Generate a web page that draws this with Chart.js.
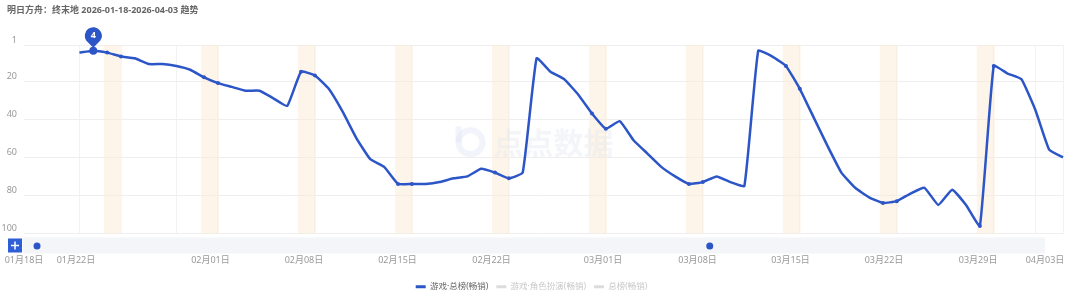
<!DOCTYPE html>
<html>
<head>
<meta charset="utf-8">
<script src="https://cdn.jsdelivr.net/npm/chart.js@4"></script>
<style>
  html, body { margin: 0; padding: 0; background: #fff; }
  #caixa { position: relative; width: 1080px; height: 303px; }
  #titulo {
    position: absolute; left: 7px; top: 4px;
    font: bold 9px/12px "Noto Sans", "Noto Sans CJK SC", sans-serif;
    color: #666; white-space: nowrap;
  }
</style>
</head>
<body>
<div id="caixa">
  <canvas id="grafico" width="1080" height="303"></canvas>
  <div id="titulo"></div>
</div>
<script>
// 日期（每天一个点）
const dias = [
  '01-18','01-19','01-20','01-21','01-22','01-23','01-24','01-25','01-26','01-27','01-28','01-29','01-30','01-31',
  '02-01','02-02','02-03','02-04','02-05','02-06','02-07','02-08','02-09','02-10','02-11','02-12','02-13','02-14',
  '02-15','02-16','02-17','02-18','02-19','02-20','02-21','02-22','02-23','02-24','02-25','02-26','02-27','02-28',
  '03-01','03-02','03-03','03-04','03-05','03-06','03-07','03-08','03-09','03-10','03-11','03-12','03-13','03-14',
  '03-15','03-16','03-17','03-18','03-19','03-20','03-21','03-22','03-23','03-24','03-25','03-26','03-27','03-28',
  '03-29','03-30','03-31','04-01','04-02','04-03'
];

// 游戏·总榜(畅销) 排名
const ranking = [
  null, null, null, null, 5, 4, 5, 7, 8, 11, 11, 12, 14, 18,
  21, 23, 25, 25, 29, 33, 15, 17, 24, 36, 50, 61, 65, 74,
  74, 74, 73, 71, 70, 66, 68, 71, 68, 8, 15, 19, 27, 37,
  45, 41, 51, 58, 65, 70, 74, 73, 70, 73, 75, 4, 7, 12,
  24, 39, 54, 68, 76, 81, 84, 83, 79, 76, 85, 77, 85, 96,
  12, 16, 19, 35, 56, 60
];

const series = ['游戏·总榜(畅销)', '游戏·角色扮演(畅销)', '总榜(畅销)'];
const yTicks = [1, 20, 40, 60, 80, 100];
const xTickLabels = ['01月18日', '01月22日', '02月01日', '02月08日', '02月15日', '02月22日',
  '03月01日', '03月08日', '03月15日', '03月22日', '03月29日', '04月03日'];
const titulo = '明日方舟：终末地 2026-01-18-2026-04-03 趋势';
const destaque = 5; // ponto com o marcador

// ---- layout (fora dos dados) ----
const gridDays = [4, 11, 14, 21, 28, 35, 42, 49, 56, 63, 70, 73, 75];
const xTickPos = [0, 3.75, 13.46, 20.21, 26.96, 33.75, 41.8, 48.62, 55.33, 62.08, 68.87, 73.7];
const handlePos = [0.94, 49.5];

const azul = '#2c55c7';
const legendCores = [azul, '#dcdcdc', '#dcdcdc'];
const legendTexto = ['#666', '#c8c8c8', '#c8c8c8'];

document.getElementById('titulo').textContent = titulo;

// dia da semana de cada data
const diaSemana = dias.map(d => {
  const [m, dd] = d.split('-').map(Number);
  return new Date(Date.UTC(2026, m - 1, dd)).getUTCDay();
});
const sabados = diaSemana.map((w, i) => w === 6 ? i : -1).filter(i => i >= 0);
const fimDeSemana = i => diaSemana[i] === 0 || diaSemana[i] === 6;

Chart.defaults.font.family = '"Noto Sans", "Noto Sans CJK SC", sans-serif';

const decoracao = {
  id: 'decoracao',
  beforeDatasetsDraw(chart) {
    const { ctx, chartArea: a, scales: { x } } = chart;
    ctx.save();
    // faixas de fim de semana
    ctx.fillStyle = 'rgba(252, 236, 216, 0.55)';
    sabados.forEach(s => {
      if (s + 1 >= dias.length) return;
      const x0 = x.getPixelForValue(s - 0.22);
      const x1 = x.getPixelForValue(s + 1.07);
      ctx.fillRect(x0, a.top, x1 - x0, a.bottom - a.top);
    });
    // marca d'água
    const cx = (a.left + a.right) / 2;
    const cy = (a.top + a.bottom) / 2 + 3;
    ctx.strokeStyle = 'rgba(220, 228, 244, 0.4)';
    ctx.lineWidth = 6;
    ctx.beginPath();
    ctx.arc(cx - 73, cy, 12, 0, Math.PI * 2);
    ctx.stroke();
    ctx.beginPath();
    ctx.moveTo(cx - 85, cy - 16);
    ctx.lineTo(cx - 85, cy);
    ctx.stroke();
    ctx.fillStyle = 'rgba(228, 230, 238, 0.4)';
    ctx.font = 'bold 30px "Noto Sans CJK SC", sans-serif';
    ctx.textBaseline = 'middle';
    ctx.fillText('点点数据', cx - 50, cy);
    ctx.restore();
  },
  afterDraw(chart) {
    const { ctx, chartArea: a, scales: { x, y, x2 } } = chart;
    ctx.save();
    // barra do navegador
    const barTop = a.bottom + 4;
    ctx.fillStyle = '#f3f5f9';
    ctx.fillRect(a.left - 1, barTop, x2.getPixelForValue(xTickPos[xTickPos.length - 1]) - a.left + 1, 16);
    ctx.fillStyle = azul;
    handlePos.forEach(v => {
      ctx.beginPath();
      ctx.arc(x2.getPixelForValue(v), barTop + 8.5, 3.5, 0, Math.PI * 2);
      ctx.fill();
    });
    // botão +
    ctx.fillStyle = '#2f5fd6';
    ctx.fillRect(8, barTop + 1, 14, 14);
    ctx.strokeStyle = '#fff';
    ctx.lineWidth = 1.5;
    ctx.beginPath();
    ctx.moveTo(11, barTop + 8);
    ctx.lineTo(19, barTop + 8);
    ctx.moveTo(15, barTop + 4);
    ctx.lineTo(15, barTop + 12);
    ctx.stroke();
    // marcador em forma de pino
    const px = x.getPixelForValue(destaque);
    const py = y.getPixelForValue(ranking[destaque]);
    const r = 8.5, cyp = py - 15;
    ctx.fillStyle = azul;
    ctx.beginPath();
    ctx.arc(px, cyp, r, Math.PI * 0.8, Math.PI * 2.2);
    ctx.lineTo(px, py - 3);
    ctx.closePath();
    ctx.fill();
    ctx.fillStyle = '#fff';
    ctx.font = 'bold 9px "Noto Sans", sans-serif';
    ctx.textAlign = 'center';
    ctx.textBaseline = 'middle';
    ctx.fillText(String(ranking[destaque]), px, cyp);
    ctx.restore();
  }
};

const ctx = document.getElementById('grafico').getContext('2d');
const grafico = new Chart(ctx, {
  type: 'line',
  data: {
    labels: dias,
    datasets: [
      {
        label: series[0],
        data: ranking,
        borderColor: azul,
        backgroundColor: azul,
        borderWidth: 2.5,
        tension: 0.12,
        pointRadius: c => c.dataIndex === destaque ? 4 : (fimDeSemana(c.dataIndex) ? 2 : 0),
        pointBorderWidth: 0,
        pointHoverRadius: 4
      },
      { label: series[1], data: [], hidden: true },
      { label: series[2], data: [], hidden: true }
    ]
  },
  options: {
    responsive: false,
    animation: false,
    devicePixelRatio: 1,
    layout: { padding: { left: 0, right: 17, top: 45, bottom: 2 } },
    scales: {
      x: {
        type: 'category',
        offset: false,
        afterBuildTicks: s => { s.ticks = gridDays.map(v => ({ value: v })); },
        ticks: { display: false },
        grid: { color: '#f2f2f2', drawTicks: false },
        border: { display: false }
      },
      x2: {
        type: 'linear',
        position: 'bottom',
        weight: 1,
        min: 0,
        max: dias.length - 1,
        afterBuildTicks: s => { s.ticks = xTickPos.map(v => ({ value: v })); },
        afterFit: s => { s.height = 41; s.paddingLeft = 0; s.paddingRight = 0; },
        ticks: {
          autoSkip: false, maxRotation: 0, color: '#999', font: { size: 9 }, padding: 22,
          callback: (v, i) => xTickLabels[i]
        },
        grid: { display: false, drawTicks: false },
        border: { display: false }
      },
      y: {
        reverse: true,
        min: 1,
        max: 100,
        afterBuildTicks: s => { s.ticks = yTicks.map(v => ({ value: v })); },
        afterFit: s => { s.width = 24; s.paddingTop = 0; s.paddingBottom = 0; },
        ticks: { color: '#999', font: { size: 9 }, padding: 7, labelOffset: -5 },
        grid: { color: '#eeeeee', drawTicks: false },
        border: { display: false }
      }
    },
    plugins: {
      title: { display: false },
      legend: {
        position: 'bottom',
        onClick: () => {},
        labels: {
          boxWidth: 10,
          boxHeight: 3,
          padding: 8,
          font: { size: 8.5 },
          generateLabels: chart => chart.data.datasets.map((ds, i) => ({
            text: ds.label,
            fillStyle: legendCores[i],
            strokeStyle: legendCores[i],
            lineWidth: 0,
            fontColor: legendTexto[i],
            hidden: false,
            datasetIndex: i
          }))
        }
      },
      tooltip: { enabled: false }
    }
  },
  plugins: [decoracao]
});
</script>
</body>
</html>
